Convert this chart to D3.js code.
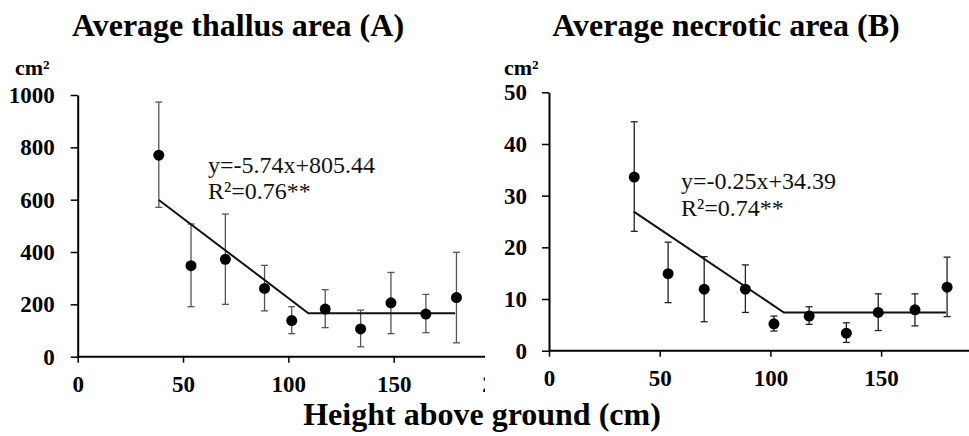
<!DOCTYPE html>
<html>
<head>
<meta charset="utf-8">
<script src="https://cdn.jsdelivr.net/npm/d3@7"></script>
<style>
  body { margin: 0; background: #fff; }
  svg { display: block; }
  text { font-family: "Liberation Serif", "Times New Roman", serif; }
</style>
</head>
<body>
<div id="chart"></div>
<script>
const width = 969;
const height = 436;
const serif = "'Liberation Serif', 'Times New Roman', serif";

// Sampling heights above ground (cm), shared by both panels
const heights = [38.5, 53.8, 70.1, 88.7, 101.6, 117.5, 134.3, 148.7, 165.3, 179.8];

// Panel A: average thallus area (cm2)
const thallusMean = [770, 348, 372, 261, 138, 182, 106, 206, 163, 226];
const thallusUpper = [973, 507, 545, 349, 191, 256, 178, 322, 238, 399];
const thallusLower = [571, 191, 200, 175, 88, 111, 38, 88, 92, 53];
const thallusFit = [[38.5, 599], [109.5, 166], [179.2, 166]];

// Panel B: average necrotic area (cm2)
const necroticMean = [33.6, 14.9, 11.9, 11.9, 5.2, 6.7, 3.4, 7.4, 7.9, 12.3];
const necroticUpper = [44.3, 21.0, 18.2, 16.6, 6.7, 8.5, 5.4, 11.0, 11.0, 18.1];
const necroticLower = [23.1, 9.3, 5.6, 7.4, 3.8, 5.1, 1.6, 3.9, 4.8, 6.6];
const necroticFit = [[38.3, 26.9], [106.1, 7.4], [179.3, 7.4]];

const xTicksA = [0, 50, 100, 150, 200];
const xTicksB = [0, 50, 100, 150];
const thallusTicks = [0, 200, 400, 600, 800, 1000];
const necroticTicks = [0, 10, 20, 30, 40, 50];

const svg = d3.select("#chart").append("svg")
    .attr("width", width)
    .attr("height", height);

/**
 * Draw one panel: axes, error bars, points, fitted line and equation.
 */
function drawPanel(cfg) {
    const x = d3.scaleLinear().domain([0, 200]).range(cfg.xRange);
    const y = d3.scaleLinear().domain(cfg.yDomain).range(cfg.yRange);

    svg.append("clipPath").attr("id", cfg.id)
        .append("rect")
        .attr("x", cfg.clip[0]).attr("y", 0)
        .attr("width", cfg.clip[1] - cfg.clip[0]).attr("height", height);

    const g = svg.append("g").attr("clip-path", `url(#${cfg.id})`);

    // white backdrop so this panel covers the one drawn before it
    g.append("rect")
        .attr("x", cfg.clip[0]).attr("y", 0)
        .attr("width", cfg.clip[1] - cfg.clip[0]).attr("height", height)
        .attr("fill", "#fff");

    // Title
    g.append("text")
        .attr("x", cfg.titleX)
        .attr("y", 36)
        .attr("text-anchor", "middle")
        .style("font-size", "32px")
        .style("font-weight", "bold")
        .text(cfg.title);

    // Unit label
    g.append("text")
        .attr("x", cfg.unitX)
        .attr("y", 75)
        .style("font-size", "22px")
        .style("font-weight", "bold")
        .text("cm²");

    const fmt = d3.format("d");

    // x-axis
    const xAxis = g.append("g")
        .attr("transform", `translate(0,${y(0)})`)
        .call(d3.axisBottom(x).tickValues(cfg.xTicks).tickFormat(fmt)
            .tickSize(6).tickPadding(13).tickSizeOuter(0));
    xAxis.attr("font-family", serif);
    xAxis.select(".domain").attr("stroke-width", 2).attr("d", `M${x(0)},0H${x(200)}`);
    xAxis.selectAll(".tick line").attr("stroke-width", 1.5);
    xAxis.selectAll("text")
        .style("font-family", serif)
        .style("font-size", "23px")
        .style("font-weight", "bold")
        .attr("fill", "#000");

    // y-axis
    const yAxis = g.append("g")
        .attr("transform", `translate(${x(0)},0)`)
        .call(d3.axisLeft(y).tickValues(cfg.yTicks).tickFormat(fmt)
            .tickSize(7).tickPadding(cfg.yPad).tickSizeOuter(0));
    yAxis.attr("font-family", serif);
    yAxis.select(".domain").attr("stroke-width", 2);
    yAxis.selectAll(".tick line").attr("stroke-width", 1.5);
    yAxis.selectAll("text")
        .style("font-family", serif)
        .style("font-size", "23px")
        .style("font-weight", "bold")
        .attr("fill", "#000");

    const rows = heights.map((h, i) => ({h, m: cfg.mean[i], hi: cfg.upper[i], lo: cfg.lower[i]}));

    // Error bars
    const bars = g.append("g").attr("stroke", cfg.barColor).attr("stroke-width", 1.3);
    bars.selectAll("line.v").data(rows).enter().append("line")
        .attr("x1", d => x(d.h)).attr("x2", d => x(d.h))
        .attr("y1", d => y(d.hi)).attr("y2", d => y(d.lo));
    bars.selectAll("line.t").data(rows).enter().append("line")
        .attr("x1", d => x(d.h) - 3.5).attr("x2", d => x(d.h) + 3.5)
        .attr("y1", d => y(d.hi)).attr("y2", d => y(d.hi));
    bars.selectAll("line.b").data(rows).enter().append("line")
        .attr("x1", d => x(d.h) - 3.5).attr("x2", d => x(d.h) + 3.5)
        .attr("y1", d => y(d.lo)).attr("y2", d => y(d.lo));

    // Fitted segmented line
    g.append("path")
        .attr("d", d3.line().x(d => x(d[0])).y(d => y(d[1]))(cfg.fit))
        .attr("fill", "none")
        .attr("stroke", "#111")
        .attr("stroke-width", 2);

    // Points
    g.append("g").selectAll("circle").data(rows).enter().append("circle")
        .attr("cx", d => x(d.h))
        .attr("cy", d => y(d.m))
        .attr("r", 5.5)
        .attr("fill", "#000");

    // Equation
    const eq = g.append("text")
        .attr("x", cfg.eqPos[0])
        .attr("y", cfg.eqPos[1])
        .style("font-family", serif)
        .style("font-size", "24px")
        .attr("fill", "#111");
    eq.append("tspan").attr("x", cfg.eqPos[0]).text(cfg.eq);
    eq.append("tspan").attr("x", cfg.eqPos[0]).attr("dy", cfg.eqGap).text(cfg.r2);
}

drawPanel({
    id: "clipA",
    clip: [0, 485],
    xRange: [77.7, 499],
    xTicks: xTicksA,
    yDomain: [0, 1000],
    yRange: [356.7, 95],
    yTicks: thallusTicks,
    yPad: 16,
    title: "Average thallus area (A)",
    titleX: 238,
    unitX: 15,
    mean: thallusMean,
    upper: thallusUpper,
    lower: thallusLower,
    fit: thallusFit,
    barColor: "#555",
    eq: "y=-5.74x+805.44",
    r2: "R²=0.76**",
    eqPos: [208, 173],
    eqGap: 26
});

drawPanel({
    id: "clipB",
    clip: [485, width],
    xRange: [549, 991.8],
    xTicks: xTicksB,
    yDomain: [0, 50],
    yRange: [350.7, 92.3],
    yTicks: necroticTicks,
    yPad: 15,
    title: "Average necrotic area (B)",
    titleX: 726,
    unitX: 504,
    mean: necroticMean,
    upper: necroticUpper,
    lower: necroticLower,
    fit: necroticFit,
    barColor: "#222",
    eq: "y=-0.25x+34.39",
    r2: "R²=0.74**",
    eqPos: [681, 189],
    eqGap: 27
});

// Shared x-axis title
svg.append("text")
    .attr("x", 482)
    .attr("y", 425)
    .attr("text-anchor", "middle")
    .style("font-size", "32px")
    .style("font-weight", "bold")
    .text("Height above ground (cm)");
</script>
</body>
</html>
